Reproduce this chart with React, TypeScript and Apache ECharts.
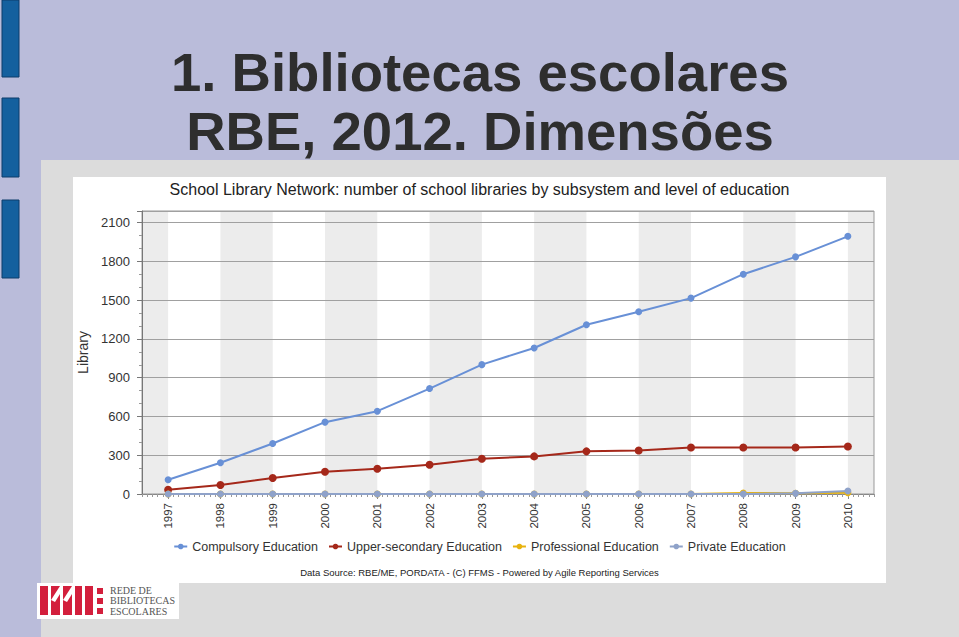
import React, { useEffect, useRef } from "react";
import * as echarts from "echarts";

const years = ["1997", "1998", "1999", "2000", "2001", "2002", "2003", "2004", "2005", "2006", "2007", "2008", "2009", "2010"];
const compulsory = [110, 242, 391, 556, 641, 816, 1001, 1130, 1310, 1410, 1516, 1701, 1835, 1994];
const upperSecondary = [33, 69, 124, 172, 195, 226, 273, 291, 330, 337, 360, 360, 360, 368];
const professional = [0, 0, 0, 0, 0, 0, 0, 0, 0, 0, 0, 8, 6, 10];
const privateEd = [0, 0, 0, 0, 0, 0, 0, 0, 0, 0, 0, 0, 5, 23];
const seriesNames = ["Compulsory Education", "Upper-secondary Education", "Professional Education", "Private Education"];
const seriesColors = ["#6890d6", "#a5281a", "#e8b30e", "#8fa2c9"];
// band shading: from category index s to s+1 (grey)
const shadeStarts = [-1, 1, 3, 5, 7, 9, 11, 13];
const yMin = 0;
const yMax = 2190;
const yInterval = 300;

const chartTitle = "School Library Network: number of school libraries by subsystem and level of education";
const sourceText = "Data Source: RBE/ME, PORDATA - (C) FFMS - Powered by Agile Reporting Services";
const slideLine1 = "1. Bibliotecas escolares";
const slideLine2 = "RBE, 2012. Dimensões";
const logoLines = ["REDE DE", "BIBLIOTECAS", "ESCOLARES"];

export default function App() {
  const ref = useRef<HTMLDivElement>(null);
  useEffect(() => {
    if (!ref.current) return;
    const chart = echarts.init(ref.current, null, { renderer: "svg" });
    const font = "'Liberation Sans', Arial, sans-serif";
    const lineSeries = [compulsory, upperSecondary, professional, privateEd].map((d, i) => ({
      type: "line",
      name: seriesNames[i],
      data: d,
      xAxisIndex: 0,
      yAxisIndex: 0,
      symbol: "circle",
      symbolSize: i === 1 ? 8 : 7,
      showSymbol: true,
      lineStyle: { width: 2, color: seriesColors[i] },
      itemStyle: { color: seriesColors[i] },
      z: 3 + i,
    }));
    const logoBars = [
      { x: 40, w: 8 },
      { x: 51, w: 9 },
      { x: 63, w: 9 },
      { x: 75, w: 7 },
      { x: 85, w: 8 },
    ];
    const graphic: any[] = [
      { type: "rect", shape: { x: 0, y: 0, width: 959, height: 637 }, style: { fill: "#babcda" }, z: -20, silent: true },
      { type: "rect", shape: { x: 41, y: 160, width: 918, height: 477 }, style: { fill: "#dcdcdc" }, z: -19, silent: true },
      ...[
        [0, 77],
        [98, 177],
        [200, 278],
      ].map(([a, b]) => ({
        type: "rect",
        shape: { x: 2, y: a, width: 17, height: b - a },
        style: { fill: "#14609e", stroke: "#0c3d6b", lineWidth: 1 },
        z: -18,
        silent: true,
      })),
      {
        type: "text",
        x: 480,
        y: 72,
        style: { text: slideLine1, fill: "#2e2e2e", font: `bold 54.5px ${font}`, align: "center", verticalAlign: "middle" },
        z: -18,
      },
      {
        type: "text",
        x: 480,
        y: 131,
        style: { text: slideLine2, fill: "#2e2e2e", font: `bold 54.5px ${font}`, align: "center", verticalAlign: "middle" },
        z: -18,
      },
      { type: "rect", shape: { x: 73, y: 177, width: 813, height: 406 }, style: { fill: "#ffffff" }, z: -17, silent: true },
      { type: "rect", shape: { x: 37, y: 583, width: 142, height: 36 }, style: { fill: "#ffffff" }, z: -17, silent: true },
      ...logoBars.map((b) => ({
        type: "rect",
        shape: { x: b.x, y: 586, width: b.w, height: 29 },
        style: { fill: "#d31f3c" },
        z: -16,
        silent: true,
      })),
      { type: "polygon", shape: { points: [[51, 600], [60, 586], [60, 594], [55, 602]] }, style: { fill: "#ffffff" }, z: -15, silent: true },
      { type: "polygon", shape: { points: [[63, 600], [72, 586], [72, 594], [67, 602]] }, style: { fill: "#ffffff" }, z: -15, silent: true },
      ...[588, 598, 608].map((yy) => ({
        type: "rect",
        shape: { x: 97, y: yy, width: 6, height: 6 },
        style: { fill: "#d31f3c" },
        z: -16,
        silent: true,
      })),
      ...logoLines.map((t, i) => ({
        type: "text",
        x: 110,
        y: 590 + i * 10.5,
        style: { text: t, fill: "#555", font: "10px 'Liberation Serif', 'DejaVu Serif', serif", verticalAlign: "middle" },
        z: -15,
      })),
    ];

    chart.setOption({
      animation: false,
      textStyle: { fontFamily: font },
      title: [
        { text: chartTitle, left: "center", top: 176, textStyle: { fontSize: 16, fontWeight: "normal", color: "#222", fontFamily: font } },
        { text: sourceText, left: "center", top: 562, textStyle: { fontSize: 9.5, fontWeight: "normal", color: "#222", fontFamily: font } },
      ],
      legend: {
        data: seriesNames,
        left: "center",
        top: 535,
        itemWidth: 13,
        itemHeight: 7,
        itemGap: 10,
        textStyle: { fontSize: 12.5, color: "#333", fontFamily: font },
      },
      graphic,
      grid: {
        left: 142,
        right: 85,
        top: 211,
        bottom: 143,
        show: true,
        borderColor: "#999",
        borderWidth: 1,
        backgroundColor: "transparent",
      },
      xAxis: [
        {
          type: "category",
          data: years,
          boundaryGap: true,
          axisLine: { lineStyle: { color: "#888" } },
          axisTick: { show: true, alignWithLabel: true, length: 5, lineStyle: { color: "#888" } },
          axisLabel: { rotate: 90, fontSize: 11.5, color: "#333", margin: 9, fontFamily: font },
          splitLine: { show: false },
        },
        {
          type: "value",
          min: 0,
          max: 140,
          interval: 1,
          position: "bottom",
          axisLine: { show: false },
          axisTick: { show: true, length: 3, lineStyle: { color: "#999" } },
          axisLabel: { show: false },
          splitLine: { show: false },
        },
      ],
      yAxis: {
        type: "value",
        min: yMin,
        max: yMax,
        interval: yInterval,
        name: "Library",
        nameLocation: "middle",
        nameGap: 45,
        nameRotate: 90,
        nameTextStyle: { fontSize: 14, color: "#333", fontFamily: font },
        axisLine: { show: true, lineStyle: { color: "#777" } },
        axisTick: { show: true, length: 5, lineStyle: { color: "#777" } },
        minorTick: { show: true, splitNumber: 3, length: 3, lineStyle: { color: "#999" } },
        axisLabel: {
          fontSize: 13,
          color: "#333",
          margin: 12,
          showMaxLabel: false,
          fontFamily: font,
          formatter: (v: number) => String(v),
        },
        splitLine: { show: true, lineStyle: { color: "#a0a0a0", width: 1 } },
      },
      series: [
        {
          type: "custom",
          name: "shade",
          silent: true,
          xAxisIndex: 0,
          yAxisIndex: 0,
          z: -1,
          data: shadeStarts.map(() => [0, 0]),
          renderItem: (params: any, api: any) => {
            const s = shadeStarts[params.dataIndex];
            const bw = api.size([1, 0])[0];
            const c0 = api.coord([0, 0])[0];
            const cs = params.coordSys;
            let x0 = c0 + s * bw;
            let x1 = x0 + bw;
            x0 = Math.max(x0, cs.x);
            x1 = Math.min(x1, cs.x + cs.width);
            return {
              type: "rect",
              shape: { x: x0, y: cs.y, width: x1 - x0, height: cs.height },
              style: { fill: "#ececec" },
            };
          },
        },
        ...lineSeries,
      ],
    });
    return () => chart.dispose();
  }, []);
  return <div ref={ref} style={{ position: "absolute", left: 0, top: 0, width: 959, height: 637 }} />;
}
